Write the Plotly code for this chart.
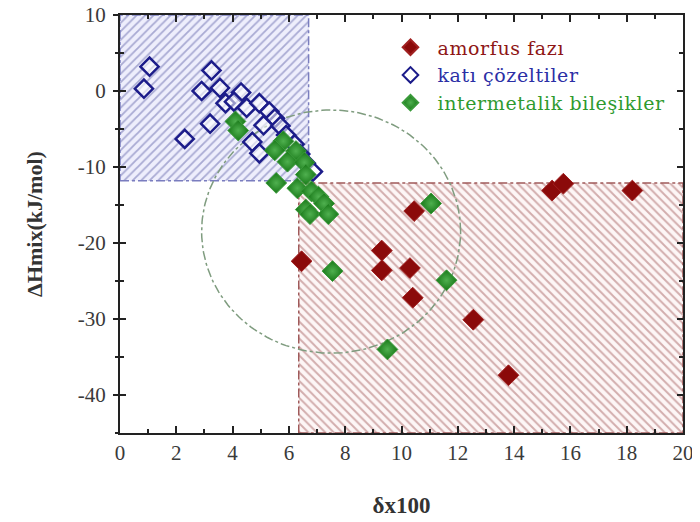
import numpy as np
import plotly.graph_objects as go

# ---- data ----
amorf_x = [6.45, 9.3, 9.3, 10.3, 10.4, 10.45, 12.55, 13.8, 15.35, 15.75, 18.2]
amorf_y = [-22.4, -21.0, -23.6, -23.3, -27.2, -15.8, -30.1, -37.4, -13.1, -12.2, -13.1]

kati_x = [1.05, 0.85, 3.25, 2.9, 3.55, 3.75, 4.3, 4.05, 4.5, 4.95, 5.3, 5.5, 3.2, 2.3,
          5.1, 4.7, 4.95, 5.7, 5.9, 6.2, 6.4, 6.6, 6.85]
kati_y = [3.2, 0.3, 2.7, 0.0, 0.4, -1.6, -0.2, -1.4, -2.2, -1.6, -2.7, -3.6, -4.3, -6.3,
          -4.5, -6.7, -8.2, -4.6, -5.8, -7.0, -8.3, -9.5, -10.6]

inter_x = [4.1, 4.2, 5.8, 5.5, 6.25, 5.95, 6.55, 6.6, 5.55, 6.3, 6.8, 7.05, 7.25, 6.6,
           6.75, 7.4, 7.55, 11.05, 11.6, 9.5]
inter_y = [-4.0, -5.2, -6.6, -7.8, -7.9, -9.3, -9.4, -11.0, -12.1, -12.8, -13.2, -13.9,
           -14.8, -15.6, -16.2, -16.2, -23.7, -14.8, -24.9, -34.0]

# tick labels
x_tickvals = [0, 2, 4, 6, 8, 10, 12, 14, 16, 18, 20]
x_ticktext = ["0", "2", "4", "6", "8", "10", "12", "14", "16", "18", "20"]
y_tickvals = [10, 0, -10, -20, -30, -40]
y_ticktext = ["10", "0", "-10", "-20", "-30", "-40"]

# region bounds
blue_box_x = [0, 6.7]
blue_box_y = [-11.8, 10]
red_box_x = [6.35, 20]
red_box_y = [-45, -12.1]

# ellipse parameters
ell_cx, ell_cy, ell_rx, ell_ry = 7.5, -18.5, 4.6, 16.0

x_range = [0, 20]
y_range = [-45, 10]

SERIF = "Liberation Serif"
LEG = "letter-spacing:0.6px"

fig = go.Figure()

# hatched regions
fig.add_trace(go.Scatter(
    x=[blue_box_x[0], blue_box_x[1], blue_box_x[1], blue_box_x[0], blue_box_x[0]],
    y=[blue_box_y[0], blue_box_y[0], blue_box_y[1], blue_box_y[1], blue_box_y[0]],
    mode="lines", fill="toself", fillcolor="rgba(236,236,250,1)",
    fillpattern=dict(shape="/", fgcolor="#6366aa", bgcolor="rgba(238,238,252,1)",
                     size=6, solidity=0.3),
    line=dict(color="#7a7dbf", width=1.5, dash="dashdot"),
    hoverinfo="skip", showlegend=False))

fig.add_trace(go.Scatter(
    x=[red_box_x[0], red_box_x[1], red_box_x[1], red_box_x[0], red_box_x[0]],
    y=[red_box_y[0], red_box_y[0], red_box_y[1], red_box_y[1], red_box_y[0]],
    mode="lines", fill="toself", fillcolor="rgba(252,244,244,1)",
    fillpattern=dict(shape="\\", fgcolor="#a86464", bgcolor="rgba(253,246,246,1)",
                     size=6, solidity=0.32),
    line=dict(color="#a05a5a", width=1.5, dash="dashdot"),
    hoverinfo="skip", showlegend=False))

# ellipse
t = np.linspace(0, 2 * np.pi, 200)
fig.add_trace(go.Scatter(
    x=ell_cx + ell_rx * np.cos(t), y=ell_cy + ell_ry * np.sin(t),
    mode="lines", line=dict(color="#7f9c7f", width=1.5, dash="dashdot"),
    hoverinfo="skip", showlegend=False))

# data series
fig.add_trace(go.Scatter(
    x=kati_x, y=kati_y, mode="markers",
    name=f"<span style='color:#2b2fa6;{LEG}'>katı çözeltiler</span>",
    marker=dict(symbol="diamond", size=14, color="rgba(255,255,255,0.55)",
                line=dict(color="#1c1c8a", width=2.5)),
    legendrank=2))

fig.add_trace(go.Scatter(
    x=amorf_x, y=amorf_y, mode="markers",
    name=f"<span style='color:#8e1616;{LEG}'>amorfus fazı</span>",
    marker=dict(symbol="diamond", size=16, color="#8b0a0a",
                line=dict(color="#a02020", width=1)),
    legendrank=1))

fig.add_trace(go.Scatter(
    x=inter_x, y=inter_y, mode="markers",
    name=f"<span style='color:#2f9a2f;{LEG}'>intermetalik bileşikler</span>",
    marker=dict(symbol="diamond", size=16, color="#187818",
                gradient=dict(type="radial", color="#4fb04f"),
                line=dict(color="#3a9a3a", width=1)),
    legendrank=3))

# helper trace for the outside half of crossing y ticks
fig.add_trace(go.Scatter(x=[None], y=[None], yaxis="y2", showlegend=False,
                         hoverinfo="skip"))

fig.update_layout(
    width=700, height=522,
    margin=dict(l=112, r=25, t=7, b=97),
    paper_bgcolor="white", plot_bgcolor="white",
    font=dict(family=SERIF, size=20, color="#333333"),
    showlegend=True,
    legend=dict(x=0.468, y=0.968, xanchor="left", yanchor="top",
                bgcolor="rgba(0,0,0,0)", borderwidth=0,
                font=dict(family="DejaVu Serif", size=19),
                itemwidth=44,
                itemsizing="constant", tracegroupgap=0),
    xaxis=dict(range=x_range, tickvals=x_tickvals, ticktext=x_ticktext,
               showgrid=False, zeroline=False, automargin=False,
               ticklabeloverflow="allow",
               showline=True, linecolor="#222", linewidth=2, mirror="ticks",
               ticks="inside", ticklen=7, tickwidth=2, tickcolor="#222",
               minor=dict(dtick=1, tick0=0, ticks="inside", ticklen=4, tickwidth=1.5,
                          tickcolor="#222", showgrid=False),
               tickfont=dict(family=SERIF, size=21, color="#3a3a3a"),
               title=dict(text="<b>δx100</b>", standoff=33,
                          font=dict(family=SERIF, size=23, color="#333"))),
    yaxis=dict(range=y_range, tickvals=y_tickvals, ticktext=y_ticktext,
               showgrid=False, zeroline=False, automargin=False,
               ticklabeloverflow="allow",
               showline=True, linecolor="#222", linewidth=2, mirror="ticks",
               ticks="inside", ticklen=6, tickwidth=2, tickcolor="#222",
               ticklabelstandoff=8,
               minor=dict(dtick=5, tick0=0, ticks="inside", ticklen=4, tickwidth=1.5,
                          tickcolor="#222", showgrid=False),
               tickfont=dict(family=SERIF, size=21, color="#3a3a3a"),
               title=dict(text="<b>ΔHmix(kJ/mol)</b>", standoff=29,
                          font=dict(family=SERIF, size=22, color="#333"))),
    yaxis2=dict(range=y_range, overlaying="y", side="left",
                tickvals=y_tickvals, automargin=False,
                showgrid=False, zeroline=False, showline=False,
                ticks="outside", ticklen=6, tickwidth=2, tickcolor="#222",
                minor=dict(dtick=5, tick0=0, ticks="outside", ticklen=4, tickwidth=1.5,
                           tickcolor="#222"),
                showticklabels=False),
)

fig.write_html("out.html")
